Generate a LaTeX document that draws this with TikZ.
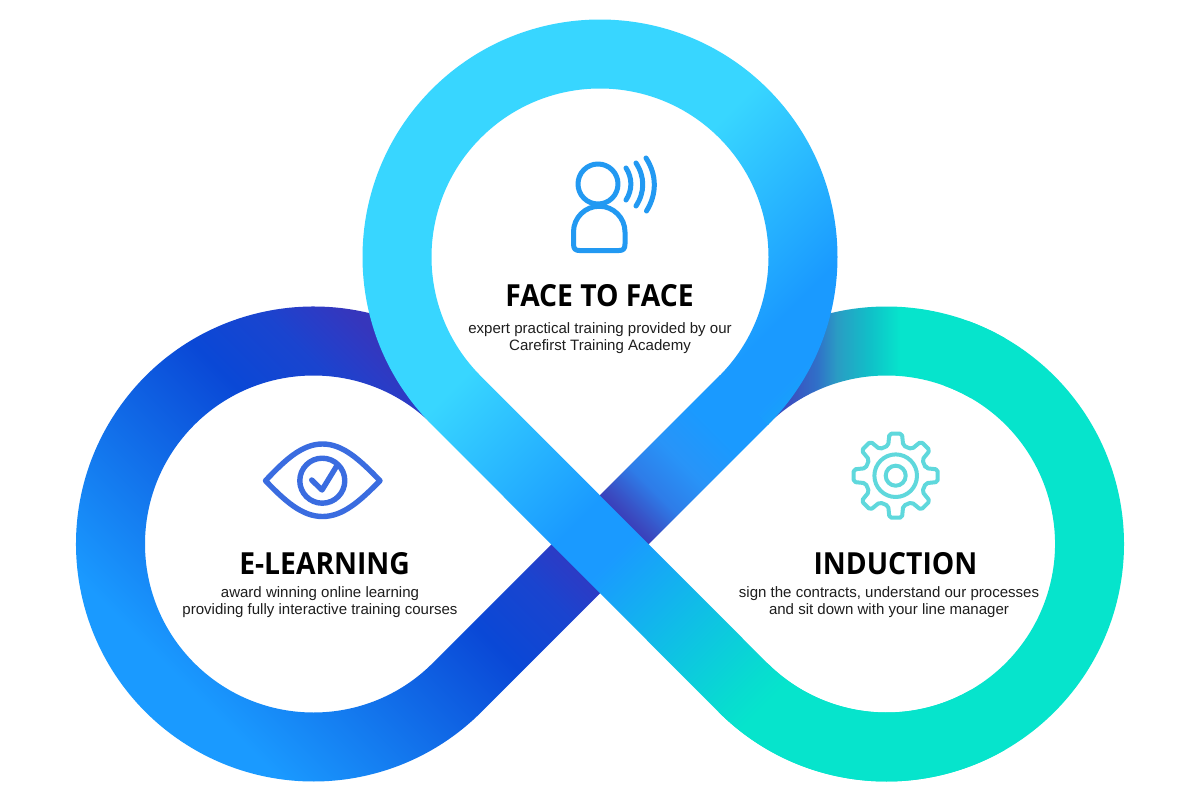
\documentclass[tikz,border=0pt]{standalone}
\usepackage{fontspec}
\setmainfont{Liberation Sans}
\newfontfamily\titlefont[FakeStretch=0.93]{Open Sans}
\definecolor{bluebright}{HTML}{1A9AFF}
\definecolor{cyanlight}{HTML}{38D6FF}
\definecolor{tealish}{HTML}{06E4CC}
\definecolor{indigo}{HTML}{3838B8}
\definecolor{personblue}{HTML}{2299F2}
\definecolor{eyeblue}{HTML}{3A6CE0}
\definecolor{gearteal}{HTML}{5FD8DC}
\definecolor{inktext}{HTML}{1E1E1E}
\definecolor{la}{HTML}{0A48D6}
\definecolor{lb}{HTML}{1A44CF}
\definecolor{lc}{HTML}{2A3CC6}
\definecolor{ld}{HTML}{3636BC}
\definecolor{ra}{HTML}{3A40BC}
\definecolor{rb}{HTML}{3A50C0}
\definecolor{rc}{HTML}{3070C8}
\definecolor{rd}{HTML}{2A9CC4}
\definecolor{re}{HTML}{10C0C8}
\definecolor{ta}{HTML}{10BCE8}
\definecolor{tb}{HTML}{08DCD0}
\definecolor{ca}{HTML}{3A4AC0}
\definecolor{cb}{HTML}{2E7CE8}
\definecolor{cc}{HTML}{2894F8}
% Linear ramps, 1800bp long; placed centred on (600,400)
\pgfdeclarehorizontalshading{gradleft}{1800bp}{color(0bp)=(bluebright); color(405bp)=(bluebright); color(652.5bp)=(la); color(723bp)=(lb); color(758.6bp)=(lc); color(787bp)=(ld); color(1800bp)=(ld)}
\pgfdeclarehorizontalshading{gradright}{1800bp}{color(0bp)=(ra); color(1060bp)=(ra); color(1090bp)=(rb); color(1117bp)=(rc); color(1137bp)=(rd); color(1170bp)=(re); color(1200bp)=(tealish); color(1800bp)=(tealish)}
\pgfdeclarehorizontalshading{gradtop}{1800bp}{color(0bp)=(cyanlight); color(787bp)=(cyanlight); color(970.7bp)=(bluebright); color(1020bp)=(bluebright); color(1112bp)=(ta); color(1205bp)=(tb); color(1232bp)=(tealish); color(1800bp)=(tealish)}
\pgfdeclarehorizontalshading{gradcross}{1800bp}{color(0bp)=(indigo); color(826bp)=(indigo); color(841bp)=(ca); color(874bp)=(cb); color(914bp)=(cc); color(960bp)=(bluebright); color(1800bp)=(bluebright)}
\tikzset{
  x=1bp,y=-1bp,
  ramp/.style={inner sep=0pt,outer sep=0pt,anchor=center},
  headline/.style={font=\titlefont\bfseries\fontsize{30.5}{31}\selectfont,text=black,anchor=base,inner sep=0pt},
  blurb/.style={font=\fontsize{15.1}{17}\selectfont,text=inktext,align=center,anchor=center,inner sep=0pt},
  personline/.style={draw=personblue,line width=5bp,line cap=round,line join=round},
  eyeline/.style={draw=eyeblue,line width=5.4bp,line cap=round,line join=round},
  gearline/.style={draw=gearteal,line width=4bp,line join=round},
}
\begin{document}
\begin{tikzpicture}
\useasboundingbox (0,0) rectangle (1200,800);
\fill[white] (0,0) rectangle (1200,800);
% left loop with the lower arm of the rising band
\begin{scope}
\clip ([shift={(313.5,544)}]-55:237.5) arc[start angle=-55,end angle=-315,radius=237.5]
  -- ++(130,-130) -- ++(-48.8,-48.8) -- ([shift={(313.5,544)}]45:168.5)
  arc[start angle=45,end angle=315,radius=168.5] -- cycle;
\node[ramp,rotate=45] (rampL) at (600,400) {\pgfuseshading{gradleft}};
\end{scope}
% right loop, flat teal part
\fill[tealish] ([shift={(886.5,544)}]135:237.5) arc[start angle=135,end angle=-70,radius=237.5]
  -- ([shift={(886.5,544)}]-70:168.5) arc[start angle=-70,end angle=135,radius=168.5] -- cycle;
% right loop, upper end fading into the band
\begin{scope}
\clip ([shift={(886.5,544)}]-60:237.5) arc[start angle=-60,end angle=-125,radius=237.5]
  -- ([shift={(886.5,544)}]-135:168.5) arc[start angle=-135,end angle=-60,radius=168.5] -- cycle;
\node[ramp] (rampR) at (600,400) {\pgfuseshading{gradright}};
\end{scope}
% upper arm of the rising band
\begin{scope}
\clip (575.6,519.6) -- (720.1,375.1) -- (768.9,423.9) -- (624.4,568.4) -- cycle;
\node[ramp,rotate=45] (rampB) at (600,400) {\pgfuseshading{gradcross}};
\end{scope}
% top loop and the falling band, on top of everything
\begin{scope}
\clip ([shift={(600,257)}]45:237.5) arc[start angle=45,end angle=-225,radius=237.5]
  -- ([shift={(886.5,544)}]135:237.5) arc[start angle=135,end angle=60,radius=237.5]
  -- ([shift={(886.5,544)}]60:168.5) arc[start angle=60,end angle=135,radius=168.5]
  -- ([shift={(600,257)}]135:168.5) arc[start angle=-225,end angle=45,radius=168.5] -- cycle;
\node[ramp,rotate=-45] (rampT) at (600,400) {\pgfuseshading{gradtop}};
\end{scope}
% person icon
\draw[personline] (598,184) circle[radius=20];
\draw[personline] (573.5,232) arc[start angle=180,end angle=360,radius=25.75] -- (625,244)
  .. controls (625,249) and (623,250.5) .. (619,250.5) -- (579.5,250.5)
  .. controls (575.5,250.5) and (573.5,249) .. (573.5,244) -- cycle;
\draw[personline] (626,168) .. controls (632.5,178) and (632.5,190) .. (626,200);
\draw[personline] (636,163) .. controls (645,177) and (645,192) .. (636,206);
\draw[personline] (646,158) .. controls (657,175) and (657,194) .. (646.5,211);
% eye icon
\draw[eyeline] (265.5,480.7) .. controls (285,460) and (302,444) .. (322.5,444)
  .. controls (343,444) and (360,460) .. (380,480.7)
  .. controls (360,501) and (343,516.5) .. (322.5,516.5)
  .. controls (302,516.5) and (285,501) .. (265.5,480.7) -- cycle;
\draw[eyeline] (322.3,480.7) circle[radius=22.5];
\draw[eyeline] (311.7,480) -- (322,490) -- (336.7,466);
% gear icon
\begin{scope}[shift={(895.7,475.7)}]
\draw[gearline,rounded corners=2bp] (-14:31)
  \foreach \a in {0,45,...,315} { -- (\a-14:31) -- (\a-8.5:42.5) -- (\a+8.5:42.5) -- (\a+14:31) } -- cycle;
\draw[gearline] (0,0) circle[radius=21.3];
\draw[gearline] (0,0) circle[radius=10];
\end{scope}
% texts
\node[headline] (faceT) at (599.5,306.7) {FACE TO FACE};
\node[blurb] (faceB) at (600,338) {expert practical training provided by our\\Carefirst Training Academy};
\node[headline] (elearnT) at (324.6,574) {E-LEARNING};
\node[blurb] (elearnB) at (320,602.5) {award winning online learning\\providing fully interactive training courses};
\node[headline] (inducT) at (895.5,574) {INDUCTION};
\node[blurb] (inducB) at (889,602.5) {sign the contracts, understand our processes\\and sit down with your line manager};
\end{tikzpicture}
\end{document}
